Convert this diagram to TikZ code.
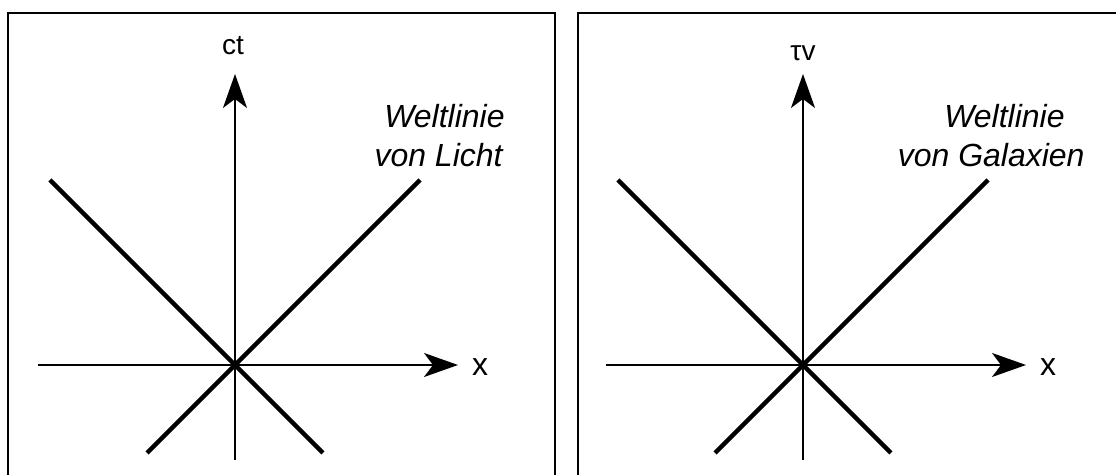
\documentclass[tikz,border=0pt]{standalone}
\usepackage{fontspec}
\setmainfont{Liberation Sans}
\usetikzlibrary{arrows.meta}

\begin{document}
\begin{tikzpicture}[
    x=0.5pt, y=-0.5pt,
    frame/.style={draw, line width=1.2pt},
    axis/.style={line width=1pt, -{Stealth[length=17pt, width=12pt, inset=4.5pt]}},
    wline/.style={line width=2.2pt},
    axlbl/.style={font=\fontsize{14}{16}\selectfont, inner sep=0pt},
    xlbl/.style={font=\fontsize{16}{19}\selectfont, inner sep=0pt},
    wlbl/.style={font=\fontsize{16}{19}\selectfont\itshape, inner sep=0pt}
]
\useasboundingbox (0,0) rectangle (1116,475);
\clip (0,0) rectangle (1116,475);

% left panel: light
\draw[frame] (8,13) rectangle (555,490);
\coordinate (oA) at (235,365);
\coordinate (tA) at (235,74);
\coordinate (bA) at (235,460);
\coordinate (lA) at (38,365);
\coordinate (rA) at (458,365);
\draw[axis] (bA) -- (tA);
\draw[axis] (lA) -- (rA);
\draw[wline] (oA) ++(-185,-185) coordinate (ulA) -- (oA) -- ++(88,88) coordinate (drA);
\draw[wline] (oA) ++(185,-185) coordinate (urA) -- (oA) -- ++(-88,88) coordinate (dlA);
\node[axlbl, anchor=base] (ctlbl) at (233,55) {ct};
\node[xlbl] (xA) at (480,367) {x};
\node[wlbl, anchor=base east] (wlA1) at (505,128) {Weltlinie};
\node[wlbl, anchor=base east] (wlA2) at (503,167) {von Licht};

% right panel: galaxies
\draw[frame] (578,13) rectangle (1130,490);
\coordinate (oB) at (803,365);
\coordinate (tB) at (803,74);
\coordinate (bB) at (803,460);
\coordinate (lB) at (606,365);
\coordinate (rB) at (1026,365);
\draw[axis] (bB) -- (tB);
\draw[axis] (lB) -- (rB);
\draw[wline] (oB) ++(-185,-185) coordinate (ulB) -- (oB) -- ++(88,88) coordinate (drB);
\draw[wline] (oB) ++(185,-185) coordinate (urB) -- (oB) -- ++(-88,88) coordinate (dlB);
\node[axlbl, anchor=base] (tvlbl) at (803,61) {τv};
\node[xlbl] (xB) at (1048,367) {x};
\node[wlbl, anchor=base east] (wlB1) at (1065,128) {Weltlinie};
\node[wlbl, anchor=base east] (wlB2) at (1085,167) {von Galaxien};
\end{tikzpicture}
\end{document}
